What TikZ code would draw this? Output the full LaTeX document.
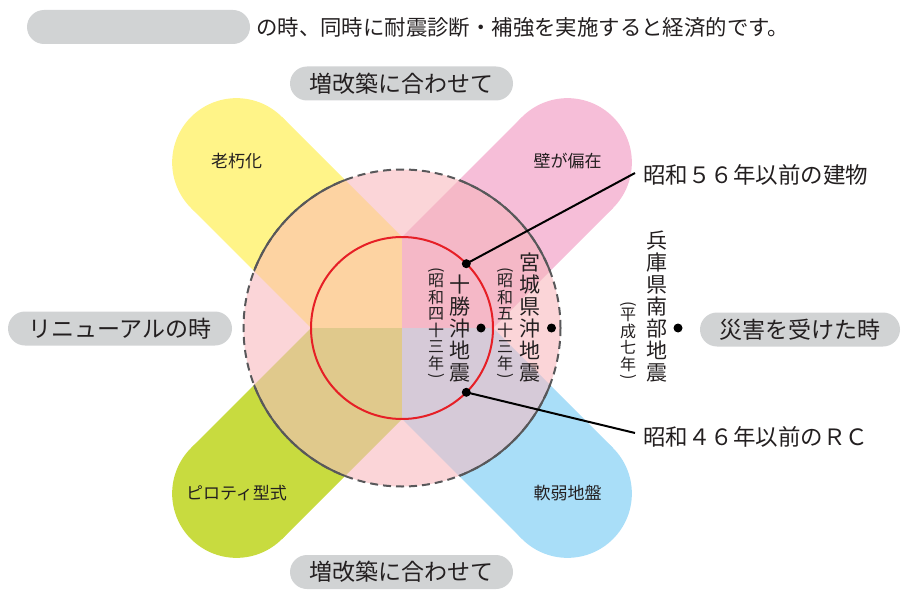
\documentclass[tikz,border=0pt]{standalone}
\usepackage{fontspec}
\setmainfont{Noto Sans CJK JP}
\usetikzlibrary{shapes.misc}
\definecolor{cyellow}{HTML}{FFF488}
\definecolor{cpink}{HTML}{F6BED8}
\definecolor{cgreen}{HTML}{C8DB3F}
\definecolor{cblue}{HTML}{A9DEF8}
\definecolor{clight}{HTML}{FBD5D8}
\definecolor{oyellow}{HTML}{FDD3A2}
\definecolor{opink}{HTML}{F5B8C7}
\definecolor{ogreen}{HTML}{E0C98C}
\definecolor{oblue}{HTML}{D6CAD8}
\definecolor{pillgray}{HTML}{D1D3D4}
\definecolor{ring}{HTML}{58585A}
\definecolor{cred}{HTML}{E61F26}
\definecolor{txt}{HTML}{231F20}
\newcommand{\vpar}[1]{\rotatebox[origin=c]{-90}{#1}}
\tikzset{
  pill/.style={rounded rectangle, fill=pillgray, inner sep=0pt, minimum height=34pt, text=txt, font=\fontsize{23}{23}\selectfont},
  bandlabel/.style={text=txt, font=\fontsize{17}{17}\selectfont},
  bigcol/.style={text=txt, inner sep=0pt, align=center, anchor=south, font=\fontsize{21}{22}\selectfont},
  yearcol/.style={text=txt, inner sep=0pt, align=center, anchor=south, font=\fontsize{16}{16.5}\selectfont},
  dot/.style={circle, fill=black, inner sep=0pt, minimum size=9pt},
  eralabel/.style={text=txt, inner sep=0pt, anchor=west, font=\fontsize{22.5}{22.5}\selectfont},
  conn/.style={black, line width=2pt}
}
\begin{document}
\begin{tikzpicture}[x=1pt,y=-1pt]
\useasboundingbox (0,0) rectangle (902,591);
\begin{scope}[shift={(402,328)}]
  % bands
  \fill[cyellow] (0,0)--(0,-91)--(-120,-211)--(-211,-120)--(-91,0)--cycle;
  \fill[cyellow] (-165.5,-165.5) circle[radius=64.35];
  \fill[cpink] (0,0)--(0,-91)--(120,-211)--(211,-120)--(91,0)--cycle;
  \fill[cpink] (165.5,-165.5) circle[radius=64.35];
  \fill[cgreen] (0,0)--(0,91)--(-120,211)--(-211,120)--(-91,0)--cycle;
  \fill[cgreen] (-165.5,165.5) circle[radius=64.35];
  \fill[cblue] (0,0)--(0,91)--(120,211)--(211,120)--(91,0)--cycle;
  \fill[cblue] (165.5,165.5) circle[radius=64.35];
  % outer disc
  \fill[clight] (0,0) circle[radius=158.5];
  \begin{scope}
    \clip (0,0) circle[radius=158.5];
    \fill[oyellow] (0,0)--(0,-91)--(-120,-211)--(-211,-120)--(-91,0)--cycle;
    \fill[opink] (0,0)--(0,-91)--(120,-211)--(211,-120)--(91,0)--cycle;
    \fill[ogreen] (0,0)--(0,91)--(-120,211)--(-211,120)--(-91,0)--cycle;
    \fill[oblue] (0,0)--(0,91)--(120,211)--(211,120)--(91,0)--cycle;
  \end{scope}
  \draw[ring, line width=2pt, dash pattern=on 8pt off 5pt] (0,0) circle[radius=158.5];
  \begin{scope}
    \clip (0,0)--(0,-91)--(-120,-211)--(-211,-120)--(-91,0)--cycle
          (0,0)--(0,-91)--(120,-211)--(211,-120)--(91,0)--cycle
          (0,0)--(0,91)--(-120,211)--(-211,120)--(-91,0)--cycle
          (0,0)--(0,91)--(120,211)--(211,120)--(91,0)--cycle;
    \draw[ring, line width=2pt] (0,0) circle[radius=158.5];
  \end{scope}
  \draw[cred, line width=2pt] (0,0) circle[radius=91];
\end{scope}

% band labels
\node[bandlabel] (rokyu) at (236.5,161) {老朽化};
\node[bandlabel] (kabe) at (567.5,161) {壁が偏在};
\node[bandlabel] (piloti) at (236.5,493) {ピロティ型式};
\node[bandlabel] (nanjaku) at (567.5,493) {軟弱地盤};

% top sentence
\node[pill, minimum width=223pt] (blank) at (138.5,27) {};
\node[text=txt, inner sep=0pt, anchor=west, font=\fontsize{21.4}{21.4}\selectfont] (sentence) at (256,27) {の時、同時に耐震診断・補強を実施すると経済的です。};

% pills
\node[pill, minimum width=223pt] (ptop) at (401.5,83.5) {増改築に合わせて};
\node[pill, minimum width=223pt] (pbot) at (401.5,572) {増改築に合わせて};
\node[pill, minimum width=224pt] (pleft) at (120,328.5) {リニューアルの時};
\node[pill, minimum width=200pt] (pright) at (800,329.5) {災害を受けた時};

% vertical texts
\node[bigcol] (tokachi) at (460,382) {十\\勝\\沖\\地\\震};
\node[yearcol] (tokachiyr) at (436,381) {\vpar{(}\\[-5pt]昭\\和\\四\\十\\三\\年\\[-5pt]\vpar{)}};
\node[bigcol] (miyagi) at (530,382) {宮\\城\\県\\沖\\地\\震};
\node[yearcol] (miyagiyr) at (505,381) {\vpar{(}\\[-5pt]昭\\和\\五\\十\\三\\年\\[-5pt]\vpar{)}};
\node[bigcol] (hyogo) at (657,382) {兵\\庫\\県\\南\\部\\地\\震};
\node[yearcol] (hyogoyr) at (628,382) {\vpar{(}\\[-5pt]平\\成\\七\\年\\[-5pt]\vpar{)}};

% dots
\node[dot] (d56) at (466.3,263.7) {};
\node[dot] (d46) at (466.3,392.3) {};
\node[dot] (dtok) at (481,328) {};
\node[dot] (dmiy) at (551.5,328) {};
\node[dot] (dhyo) at (678,328) {};

% era labels
\node[eralabel] (l56) at (643,175) {昭和５６年以前の建物};
\node[eralabel] (l46) at (643,437) {昭和４６年以前のＲＣ};
\coordinate (e56) at (635,173);
\coordinate (e46) at (635,433);
\draw[conn] (d56.center) -- (e56);
\draw[conn] (d46.center) -- (e46);
\end{tikzpicture}
\end{document}
